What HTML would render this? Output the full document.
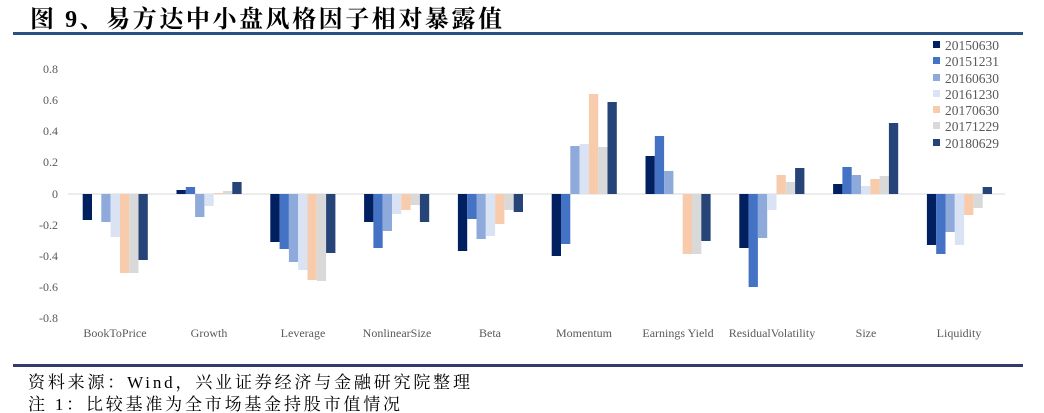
<!DOCTYPE html>
<html><head><meta charset="utf-8"><style>
html,body{margin:0;padding:0;background:#fff;}
svg{display:block;}
.t{font-family:"Liberation Serif","Noto Serif CJK SC",serif;fill:#595959;font-size:12px;}
.l{font-family:"Liberation Serif",serif;fill:#595959;font-size:13.5px;}
</style></head><body>
<svg width="1044" height="413" viewBox="0 0 1044 413" xmlns="http://www.w3.org/2000/svg">
<text x="30" y="27" textLength="472" lengthAdjust="spacing" font-family="'Liberation Serif','Noto Serif CJK SC',serif" font-weight="bold" font-size="24" fill="#000">图 9、易方达中小盘风格因子相对暴露值</text>
<rect x="13" y="32" width="1010" height="3" fill="#2a5183"/>
<g class="t" text-anchor="end">
<text x="58" y="73">0.8</text><text x="58" y="104">0.6</text><text x="58" y="135">0.4</text><text x="58" y="166">0.2</text><text x="58" y="198">0</text><text x="58" y="229">-0.2</text><text x="58" y="260">-0.4</text><text x="58" y="291">-0.6</text><text x="58" y="322">-0.8</text>
</g>
<line x1="68" y1="194" x2="1005" y2="194" stroke="#d9d9d9" stroke-width="1"/>
<g>
<rect x="82.7" y="194" width="9.3" height="26" fill="#002060"/>
<rect x="101.3" y="194" width="9.3" height="28" fill="#8eaadb"/>
<rect x="110.6" y="194" width="9.3" height="43" fill="#dae3f3"/>
<rect x="119.9" y="194" width="9.3" height="79" fill="#f8cbad"/>
<rect x="129.2" y="194" width="9.3" height="79" fill="#d9d9d9"/>
<rect x="138.5" y="194" width="9.3" height="66" fill="#264478"/>
<rect x="176.5" y="190" width="9.3" height="4" fill="#002060"/>
<rect x="185.8" y="187" width="9.3" height="7" fill="#4472c4"/>
<rect x="195.1" y="194" width="9.3" height="23" fill="#8eaadb"/>
<rect x="204.4" y="194" width="9.3" height="12" fill="#dae3f3"/>
<rect x="213.7" y="193" width="9.3" height="1" fill="#f8cbad"/>
<rect x="223" y="191" width="9.3" height="3" fill="#d9d9d9"/>
<rect x="232.3" y="182" width="9.3" height="12" fill="#264478"/>
<rect x="270.3" y="194" width="9.3" height="48" fill="#002060"/>
<rect x="279.6" y="194" width="9.3" height="55" fill="#4472c4"/>
<rect x="288.9" y="194" width="9.3" height="68" fill="#8eaadb"/>
<rect x="298.2" y="194" width="9.3" height="76" fill="#dae3f3"/>
<rect x="307.5" y="194" width="9.3" height="86" fill="#f8cbad"/>
<rect x="316.8" y="194" width="9.3" height="87" fill="#d9d9d9"/>
<rect x="326.1" y="194" width="9.3" height="59" fill="#264478"/>
<rect x="364.1" y="194" width="9.3" height="28" fill="#002060"/>
<rect x="373.4" y="194" width="9.3" height="54" fill="#4472c4"/>
<rect x="382.7" y="194" width="9.3" height="37" fill="#8eaadb"/>
<rect x="392" y="194" width="9.3" height="20" fill="#dae3f3"/>
<rect x="401.3" y="194" width="9.3" height="16" fill="#f8cbad"/>
<rect x="410.6" y="194" width="9.3" height="11" fill="#d9d9d9"/>
<rect x="419.9" y="194" width="9.3" height="28" fill="#264478"/>
<rect x="457.9" y="194" width="9.3" height="57" fill="#002060"/>
<rect x="467.2" y="194" width="9.3" height="25" fill="#4472c4"/>
<rect x="476.5" y="194" width="9.3" height="45" fill="#8eaadb"/>
<rect x="485.8" y="194" width="9.3" height="42" fill="#dae3f3"/>
<rect x="495.1" y="194" width="9.3" height="30" fill="#f8cbad"/>
<rect x="504.4" y="194" width="9.3" height="16" fill="#d9d9d9"/>
<rect x="513.7" y="194" width="9.3" height="18" fill="#264478"/>
<rect x="551.7" y="194" width="9.3" height="62" fill="#002060"/>
<rect x="561" y="194" width="9.3" height="50" fill="#4472c4"/>
<rect x="570.3" y="146" width="9.3" height="48" fill="#8eaadb"/>
<rect x="579.6" y="144" width="9.3" height="50" fill="#dae3f3"/>
<rect x="588.9" y="94" width="9.3" height="100" fill="#f8cbad"/>
<rect x="598.2" y="147" width="9.3" height="47" fill="#d9d9d9"/>
<rect x="607.5" y="102" width="9.3" height="92" fill="#264478"/>
<rect x="645.5" y="156" width="9.3" height="38" fill="#002060"/>
<rect x="654.8" y="136" width="9.3" height="58" fill="#4472c4"/>
<rect x="664.1" y="171" width="9.3" height="23" fill="#8eaadb"/>
<rect x="682.7" y="194" width="9.3" height="60" fill="#f8cbad"/>
<rect x="692" y="194" width="9.3" height="60" fill="#d9d9d9"/>
<rect x="701.3" y="194" width="9.3" height="47" fill="#264478"/>
<rect x="739.3" y="194" width="9.3" height="54" fill="#002060"/>
<rect x="748.6" y="194" width="9.3" height="93" fill="#4472c4"/>
<rect x="757.9" y="194" width="9.3" height="44" fill="#8eaadb"/>
<rect x="767.2" y="194" width="9.3" height="16" fill="#dae3f3"/>
<rect x="776.5" y="175" width="9.3" height="19" fill="#f8cbad"/>
<rect x="785.8" y="182" width="9.3" height="12" fill="#d9d9d9"/>
<rect x="795.1" y="168" width="9.3" height="26" fill="#264478"/>
<rect x="833.1" y="184" width="9.3" height="10" fill="#002060"/>
<rect x="842.4" y="167" width="9.3" height="27" fill="#4472c4"/>
<rect x="851.7" y="175" width="9.3" height="19" fill="#8eaadb"/>
<rect x="861" y="186" width="9.3" height="8" fill="#dae3f3"/>
<rect x="870.3" y="179" width="9.3" height="15" fill="#f8cbad"/>
<rect x="879.6" y="176" width="9.3" height="18" fill="#d9d9d9"/>
<rect x="888.9" y="123" width="9.3" height="71" fill="#264478"/>
<rect x="926.9" y="194" width="9.3" height="51" fill="#002060"/>
<rect x="936.2" y="194" width="9.3" height="60" fill="#4472c4"/>
<rect x="945.5" y="194" width="9.3" height="38" fill="#8eaadb"/>
<rect x="954.8" y="194" width="9.3" height="51" fill="#dae3f3"/>
<rect x="964.1" y="194" width="9.3" height="21" fill="#f8cbad"/>
<rect x="973.4" y="194" width="9.3" height="14" fill="#d9d9d9"/>
<rect x="982.7" y="187" width="9.3" height="7" fill="#264478"/>
</g>
<g class="t" text-anchor="middle">
<text x="115" y="337">BookToPrice</text><text x="209" y="337">Growth</text><text x="303" y="337">Leverage</text><text x="397" y="337">NonlinearSize</text><text x="490" y="337">Beta</text><text x="584" y="337">Momentum</text><text x="678" y="337">Earnings Yield</text><text x="772" y="337">ResidualVolatility</text><text x="866" y="337">Size</text><text x="959" y="337">Liquidity</text>
</g>
<g class="l">
<rect x="933" y="41" width="7" height="7" fill="#002060"/><text x="945" y="50">20150630</text>
<rect x="933" y="57" width="7" height="7" fill="#4472c4"/><text x="945" y="66">20151231</text>
<rect x="933" y="74" width="7" height="7" fill="#8eaadb"/><text x="945" y="83">20160630</text>
<rect x="933" y="90" width="7" height="7" fill="#dae3f3"/><text x="945" y="99">20161230</text>
<rect x="933" y="106" width="7" height="7" fill="#f8cbad"/><text x="945" y="115">20170630</text>
<rect x="933" y="122" width="7" height="7" fill="#d9d9d9"/><text x="945" y="131">20171229</text>
<rect x="933" y="139" width="7" height="7" fill="#264478"/><text x="945" y="148">20180629</text>
</g>
<rect x="13" y="364" width="1010" height="3" fill="#343a6b"/>
<g font-family="'Liberation Serif','Noto Serif CJK SC',serif" font-size="17" fill="#000">
<text x="28" y="388" textLength="442" lengthAdjust="spacing">资料来源：Wind，兴业证券经济与金融研究院整理</text>
<text x="28" y="410" textLength="372" lengthAdjust="spacing">注 1：比较基准为全市场基金持股市值情况</text>
</g>
</svg>
</body></html>
